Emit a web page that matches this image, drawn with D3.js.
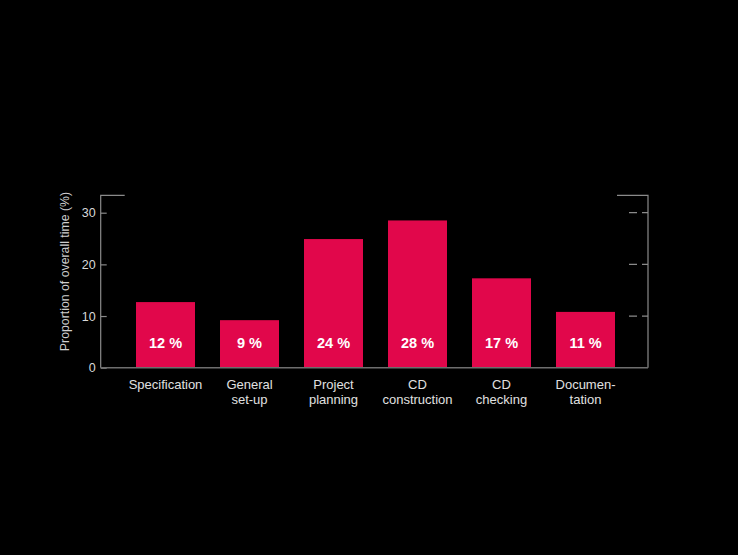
<!DOCTYPE html>
<html>
<head>
<meta charset="utf-8">
<script src="https://cdn.jsdelivr.net/npm/d3@7"></script>
<style>
  html, body { margin: 0; padding: 0; background: #000; }
  svg { display: block; }
  text { font-family: "Liberation Sans", Arial, Helvetica, sans-serif; }
</style>
</head>
<body>
<svg id="chart" width="738" height="555"></svg>
<script>
// Data
const categories = [["Specification"], ["General", "set-up"], ["Project", "planning"], ["CD", "construction"], ["CD", "checking"], ["Documen-", "tation"]];
const values = [12.7, 9.2, 24.9, 28.5, 17.3, 10.8];
const valueLabels = ["12 %", "9 %", "24 %", "28 %", "17 %", "11 %"];
const yTicks = [0, 10, 20, 30];
const yTitle = "Proportion of overall time (%)";

(function () {
const svg = d3.select("#chart");
const xLeft = 100.7, xRight = 648, yTop = 195.3, yBase = 367.7;

const x = d3.scaleBand()
  .domain(d3.range(categories.length))
  .range([123.5, 627.5])
  .paddingInner(0.2976)
  .paddingOuter(0.1488);

const y = d3.scaleLinear().domain([0, 30]).range([yBase, 212.7]);

const axisColor = "#8a8a8a";

// frame: left & right axis lines, top brackets
svg.append("path")
  .attr("d", `M${xLeft + 24},${yTop}H${xLeft}V${yBase}`)
  .attr("fill", "none").attr("stroke", axisColor).attr("stroke-width", 1.2);
svg.append("path")
  .attr("d", `M${xRight - 31},${yTop}H${xRight}V${yBase}`)
  .attr("fill", "none").attr("stroke", axisColor).attr("stroke-width", 1.2);

// left axis ticks
const yAxis = d3.axisRight(y).tickValues(yTicks).tickSize(6).tickFormat("");
const ga = svg.append("g").attr("transform", `translate(${xLeft},0)`).call(yAxis);
ga.select(".domain").remove();
ga.selectAll("line").attr("stroke", axisColor).attr("stroke-width", 1.2);

svg.append("g").selectAll("text").data(yTicks).join("text")
  .attr("x", xLeft - 5).attr("y", d => y(d) + 4.5)
  .attr("text-anchor", "end")
  .attr("fill", "#d8d8d8").attr("font-size", 12.5)
  .text(d => d);

// right dashed ticks
svg.append("g").selectAll("line").data(yTicks.filter(d => d > 0)).join("line")
  .attr("x1", xRight - 19).attr("x2", xRight)
  .attr("y1", d => y(d)).attr("y2", d => y(d))
  .attr("stroke", axisColor).attr("stroke-width", 1.2)
  .attr("stroke-dasharray", "8,5");

// bars
svg.append("g").selectAll("rect").data(values).join("rect")
  .attr("x", (d, i) => x(i))
  .attr("y", d => y(d))
  .attr("width", x.bandwidth())
  .attr("height", d => yBase - y(d))
  .attr("fill", "#e1074b");

// baseline
svg.append("line")
  .attr("x1", xLeft).attr("x2", xRight).attr("y1", yBase).attr("y2", yBase)
  .attr("stroke", "#6e6e6e").attr("stroke-width", 1.5);

// value labels
svg.append("g").selectAll("text").data(valueLabels).join("text")
  .attr("x", (d, i) => x(i) + x.bandwidth() / 2)
  .attr("y", yBase - 20)
  .attr("text-anchor", "middle")
  .attr("fill", "#fff").attr("font-size", 14.5).attr("font-weight", "bold")
  .text(d => d);

// category labels
const cl = svg.append("g").selectAll("text").data(categories).join("text")
  .attr("x", (d, i) => x(i) + x.bandwidth() / 2)
  .attr("y", 388.7)
  .attr("text-anchor", "middle")
  .attr("fill", "#e0e0e0").attr("font-size", 13);
cl.each(function (d, i) {
  const t = d3.select(this);
  d.forEach((line, j) => {
    t.append("tspan").attr("x", x(i) + x.bandwidth() / 2).attr("dy", j === 0 ? 0 : 15.3).text(line);
  });
});

// y title
svg.append("text")
  .attr("transform", `translate(69,${(yTop + yBase) / 2 - 10}) rotate(-90)`)
  .attr("text-anchor", "middle")
  .attr("fill", "#cfcfcf").attr("font-size", 12.3)
  .text(yTitle);
})();
</script>
</body>
</html>
